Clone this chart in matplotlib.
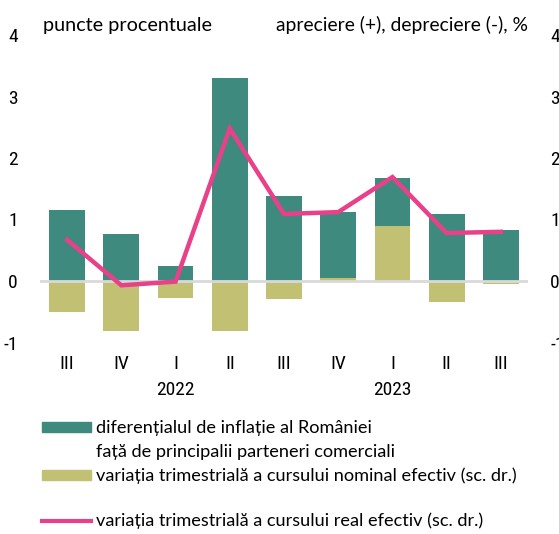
import numpy as np
import matplotlib.pyplot as plt
from matplotlib.patches import Rectangle
from matplotlib.lines import Line2D

# quarterly data, 2021 Q3 - 2023 Q3
quarters = ['III', 'IV', 'I', 'II', 'III', 'IV', 'I', 'II', 'III']
years = {'2022': 2, '2023': 6}
infl_diff = [1.15, 0.76, 0.24, 3.30, 1.38, 1.07, 0.77, 1.09, 0.83]
neer = [-0.50, -0.82, -0.27, -0.82, -0.30, 0.05, 0.90, -0.34, -0.05]
reer = [0.67, -0.07, -0.01, 2.48, 1.09, 1.12, 1.69, 0.78, 0.80]

teal = '#3e8a7e'
olive = '#c1c073'
pink = '#e9408a'
narrow = ['Roboto Condensed', 'DejaVu Sans']

plt.rcParams['font.family'] = ['Lato', 'DejaVu Sans']
plt.rcParams['axes.unicode_minus'] = False

W, H = 559, 534
fig = plt.figure(figsize=(W/100, H/100), dpi=100)
ax = fig.add_axes([40/W, 1 - 342.5/H, 488/W, 307.5/H])

x = np.arange(len(quarters))
w = 0.66
neer = np.array(neer)
ax.bar(x, neer, w, color=olive, zorder=2)
ax.bar(x, infl_diff, w, bottom=np.clip(neer, 0, None), color=teal, zorder=2)
ax.plot(x, reer, color=pink, lw=3.2, zorder=4, solid_joinstyle='miter')
ax.axhline(0, color='#d9d9d9', lw=2, zorder=3)

ax.set_xlim(-0.5, 8.5)
ax.set_ylim(-1, 4)
ax.set_yticks(range(-1, 5))
for s in ax.spines.values():
    s.set_visible(False)
ax.tick_params(length=0)
ax.tick_params(axis='y', pad=16)
ax.set_yticklabels([str(v) for v in range(-1, 5)], fontfamily=narrow, fontsize=14)
ax.set_xticks(x)
ax.set_xticklabels(quarters, fontfamily=narrow, fontsize=14)
ax.tick_params(axis='x', pad=9)

ax2 = ax.twinx()
ax2.set_ylim(-1, 4)
ax2.set_yticks(range(-1, 5))
ax2.set_yticklabels([str(v) for v in range(-1, 5)], fontfamily=narrow, fontsize=14)
for s in ax2.spines.values():
    s.set_visible(False)
ax2.tick_params(length=0, pad=16)

tr = ax.get_xaxis_transform()
for yr, pos in years.items():
    ax.text(pos, -0.155, yr, transform=tr, ha='center', va='center',
            fontsize=14, fontfamily=narrow)

fig.text(43/W, 1 - 25/H, 'puncte procentuale', fontsize=14.3, va='center', ha='left')
fig.text(528/W, 1 - 25/H, 'apreciere (+), depreciere (-), %', fontsize=13.9,
         va='center', ha='right')

# legend
fig.add_artist(Rectangle((42/W, 1 - 432/H), 49/W, 10/H, color=teal, transform=fig.transFigure))
fig.add_artist(Rectangle((42/W, 1 - 480/H), 49/W, 10/H, color=olive, transform=fig.transFigure))
fig.add_artist(Line2D([42/W, 91/W], [1 - 521/H, 1 - 521/H], color=pink, lw=3,
                      transform=fig.transFigure))
fs = 13.1
fig.text(96/W, 1 - 428/H, 'diferențialul de inflație al României', fontsize=fs, va='center')
fig.text(96/W, 1 - 452/H, 'față de principalii parteneri comerciali', fontsize=fs, va='center')
fig.text(96/W, 1 - 476/H, 'variația trimestrială a cursului nominal efectiv (sc. dr.)',
         fontsize=fs, va='center')
fig.text(96/W, 1 - 521/H, 'variația trimestrială a cursului real efectiv (sc. dr.)',
         fontsize=fs, va='center')

fig.savefig('out.png', dpi=100)
